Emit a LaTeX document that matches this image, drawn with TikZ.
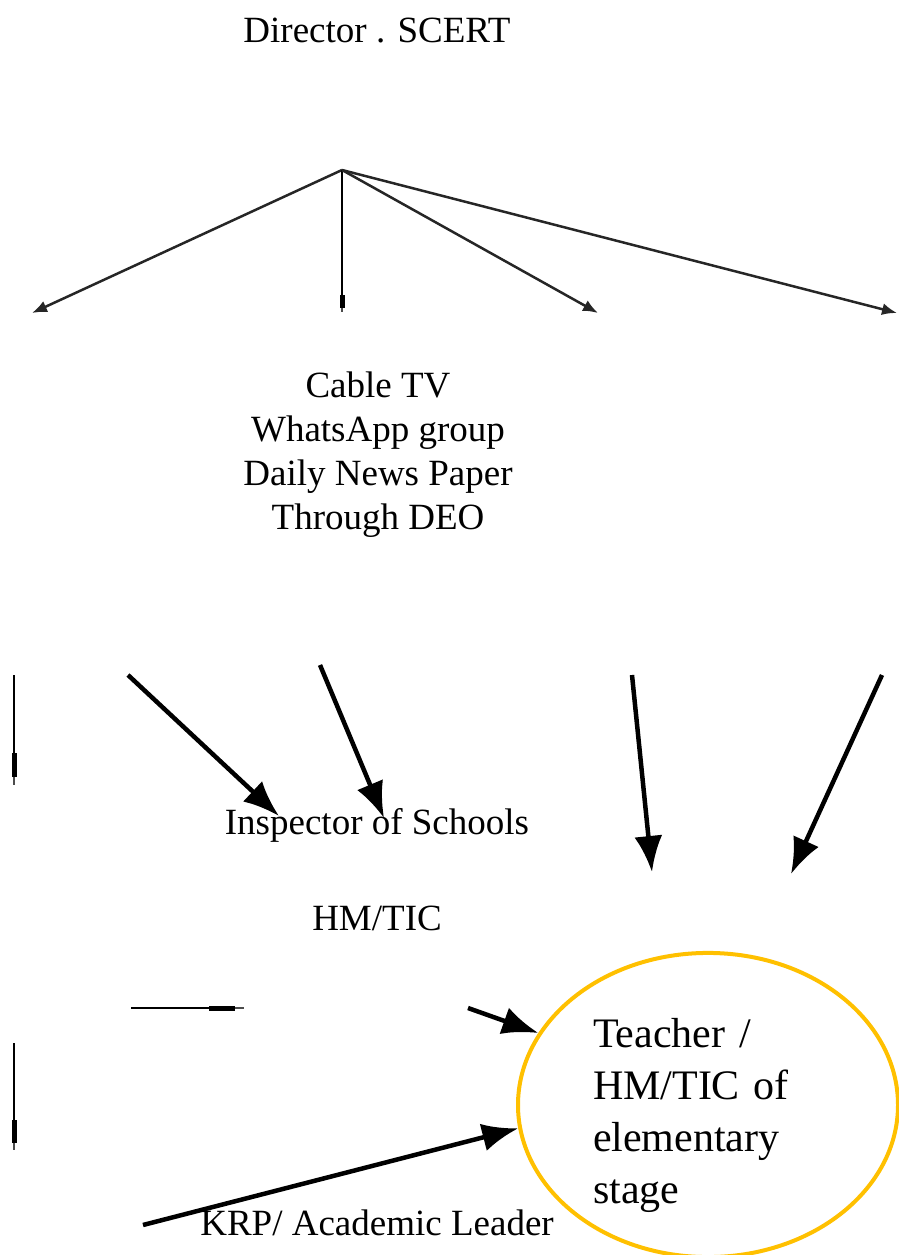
\documentclass[tikz,border=0pt]{standalone}
\usepackage{fontspec}
\setmainfont{Liberation Serif}
\usepackage{xcolor}
\usetikzlibrary{arrows.meta, shapes.geometric}

\definecolor{gold}{HTML}{FFC000}

\begin{document}
\begin{tikzpicture}[x=1pt, y=-1pt, >=Latex,
  every node/.style={font=\fontsize{37}{44}\selectfont, align=center, inner sep=0pt},
  spread/.style={-{Latex[length=15pt,width=12pt]}, draw=black!85, line width=2.5pt},
  heavy/.style={-{Latex[length=36pt,width=28pt]}, line width=4.5pt},
  stubarrow/.style 2 args={draw=black!70, line width=2pt,
    postaction={draw=black, -{Rectangle[length=#1,width=5pt]}, shorten >=#2}}]

\useasboundingbox (0,0) rectangle (899,1255);

% source at the top and the four channels fanning out
\node (director) at (377,31) {Director . SCERT};
\coordinate (hub) at (342,170);
\coordinate (ch1) at (32,313);
\coordinate (ch2) at (342,312);
\coordinate (ch3) at (598,313);
\coordinate (ch4) at (897,313);

\draw[spread] (hub) -- (ch1);
\draw[stubarrow={13pt}{4pt}] (hub) -- (ch2);
\draw[spread] (hub) -- (ch3);
\draw[spread] (hub) -- (ch4);

% channels
\node (media) at (378,455) {Cable TV\\WhatsApp group\\Daily News Paper\\Through DEO};

% levels below
\node (insp) at (377,825) {Inspector of Schools};
\node (hmtic) at (377,918) {HM/TIC};
\node (krp) at (377,1223) {KRP/ Academic Leader};

% target
\node[ellipse, draw=gold, line width=4pt, minimum width=380, minimum height=304,
  text width=230, align=left, font=\fontsize{42}{52}\selectfont] (teacher) at (708,1105)
  {\rule{0pt}{50pt}Teacher /\\HM/TIC of\\elementary\\stage};

% thick arrows
\coordinate (in1) at (128,675);
\coordinate (out1) at (279,816);
\coordinate (in2) at (320,665);
\coordinate (out2) at (384,818);
\coordinate (in3) at (632,675);
\coordinate (out3) at (652,872);
\coordinate (in4) at (882,675);
\coordinate (out4) at (791,874);
\coordinate (in5) at (468,1008);
\coordinate (in6) at (143,1225);

\draw[heavy] (in1) -- (out1);
\draw[heavy] (in2) -- (out2);
\draw[heavy] (in3) -- (out3);
\draw[heavy] (in4) -- (out4);
\draw[heavy] (in5) -- (teacher.157);
\draw[heavy] (in6) -- (teacher.187);

% small leftover arrows
\coordinate (s1a) at (14,675);
\coordinate (s1b) at (14,785);
\coordinate (s2a) at (131,1008);
\coordinate (s2b) at (244,1008);
\coordinate (s3a) at (14,1043);
\coordinate (s3b) at (14,1150);

\draw[stubarrow={24pt}{8pt}] (s1a) -- (s1b);
\draw[stubarrow={26pt}{9pt}] (s2a) -- (s2b);
\draw[stubarrow={23pt}{7pt}] (s3a) -- (s3b);

\end{tikzpicture}
\end{document}
